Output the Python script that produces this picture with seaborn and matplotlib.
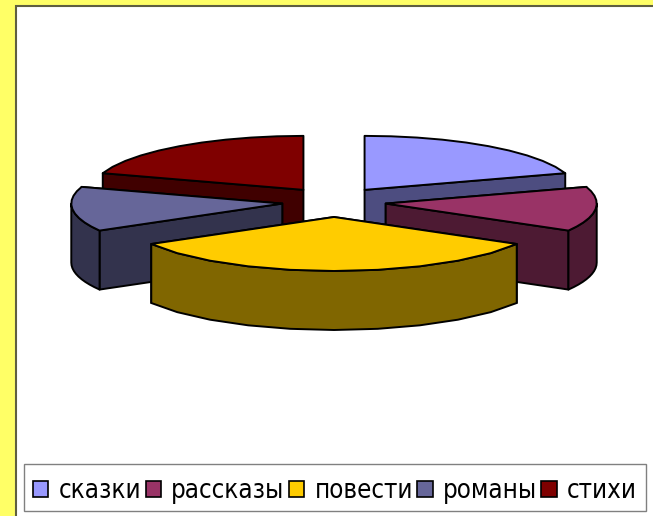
import matplotlib
matplotlib.use('Agg')
import matplotlib.pyplot as plt
from matplotlib.font_manager import FontProperties
from matplotlib.patches import Polygon, Patch, Rectangle
import numpy as np
import seaborn as sns

# Data
genres = ['сказки', 'рассказы', 'повести', 'романы', 'стихи']
values = [3, 2, 5, 2, 3]
top_colors = ['#9999FF', '#993366', '#FFCC00', '#666699', '#7F0000']

# pie geometry in pixels
cx, cy = 334, 202
rx, ry = 211, 54
depth = 59
explode_x, explode_y = 52, 15

sns.set_theme(style='white')
palette = sns.color_palette(top_colors)
side_colors = [tuple(c * 0.5 for c in col) for col in palette]

fig = plt.figure(figsize=(6.53, 5.16), dpi=100, facecolor='#FFFF66')
ax = fig.add_axes([0, 0, 1, 1])
ax.set_xlim(0, 653)
ax.set_ylim(516, 0)
ax.axis('off')

# white chart area and legend box
ax.add_patch(Rectangle((15.5, 5.5), 650, 520, facecolor='white', edgecolor='#5F5F40', linewidth=1.5))
ax.add_patch(Rectangle((23.5, 463.5), 622, 47, facecolor='white', edgecolor='#808080', linewidth=1))

fractions = np.array(values) / sum(values)
ends = np.cumsum(fractions) * 360
starts = ends - fractions * 360


def rim(apex, t):
    t = np.radians(t)
    return np.column_stack([apex[0] + rx * np.sin(t), apex[1] - ry * np.cos(t)])


def wall(points, color):
    lower = points[::-1] + [0, depth]
    ax.add_patch(Polygon(np.vstack([points, lower]), closed=True, facecolor=color,
                         edgecolor='black', linewidth=1.4, joinstyle='round'))


# back slices first, the big front one last
order = [0, 4, 3, 1, 2]
for i in order:
    mid = np.radians((starts[i] + ends[i]) / 2)
    apex = (cx + explode_x * np.sin(mid), cy - explode_y * np.cos(mid))
    ts = np.linspace(starts[i], ends[i], 11)
    arc = rim(apex, ts)
    apex_pt = np.array([apex])

    # cut faces, the one further back goes first
    faces = [np.vstack([apex_pt, arc[:1]]), np.vstack([apex_pt, arc[-1:]])]
    faces.sort(key=lambda f: f[:, 1].mean())
    for f in faces:
        wall(f, side_colors[i])

    # outer wall, only the part turned to the viewer
    lo, hi = max(starts[i], 90), min(ends[i], 270)
    if lo < hi:
        wall(rim(apex, np.linspace(lo, hi, 11)), side_colors[i])

    ax.add_patch(Polygon(np.vstack([apex_pt, arc]), closed=True, facecolor=palette[i],
                         edgecolor='black', linewidth=1.4, joinstyle='round'))

handles = [Patch(facecolor=palette[i], edgecolor='black', linewidth=1.2, label=genres[i])
           for i in range(len(genres))]
font = FontProperties(family='DejaVu Sans', stretch='condensed', size=18.5)
leg = fig.legend(handles=handles, ncol=5, loc='lower left',
                 bbox_to_anchor=(33 / 653, 1 - 504 / 516, 604 / 653, 28 / 516),
                 mode='expand', prop=font, labelcolor='black', frameon=False,
                 handlelength=0.6, handleheight=0.6, handletextpad=0.4,
                 columnspacing=0.2, borderpad=0, borderaxespad=0)

fig.savefig('out.png', dpi=100, facecolor=fig.get_facecolor())
